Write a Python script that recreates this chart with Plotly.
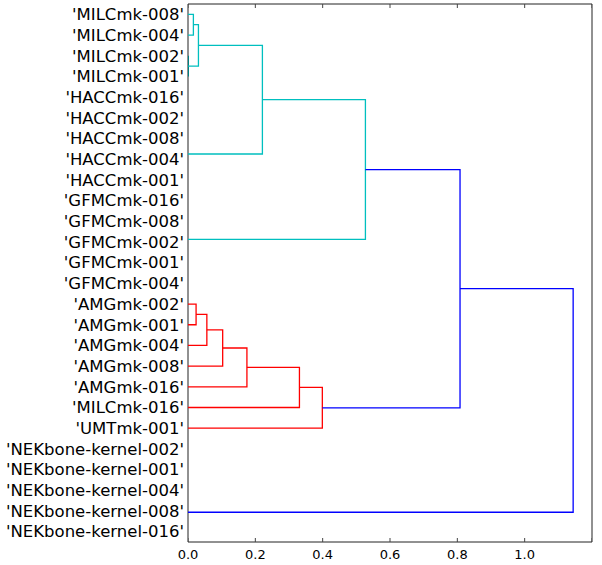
import plotly.graph_objects as go

# Leaf labels, top to bottom
leaf_labels = [
    "'MILCmk-008'", "'MILCmk-004'", "'MILCmk-002'", "'MILCmk-001'",
    "'HACCmk-016'", "'HACCmk-002'", "'HACCmk-008'", "'HACCmk-004'", "'HACCmk-001'",
    "'GFMCmk-016'", "'GFMCmk-008'", "'GFMCmk-002'", "'GFMCmk-001'", "'GFMCmk-004'",
    "'AMGmk-002'", "'AMGmk-001'", "'AMGmk-004'", "'AMGmk-008'", "'AMGmk-016'",
    "'MILCmk-016'", "'UMTmk-001'",
    "'NEKbone-kernel-002'", "'NEKbone-kernel-001'", "'NEKbone-kernel-004'",
    "'NEKbone-kernel-008'", "'NEKbone-kernel-016'",
]

# Linkage: child A, child B, merge distance, colour group
# (node ids: leaves 0..25, merged clusters 26+ in order)
link_a = [0, 2, 26, 4, 6, 29, 31, 28, 9, 11, 35, 34, 33,
          14, 39, 40, 41, 42, 43, 38, 21, 46, 47, 48, 45]
link_b = [1, 3, 27, 5, 7, 30, 8, 32, 10, 12, 13, 36, 37,
          15, 16, 17, 18, 19, 20, 44, 22, 23, 24, 25, 49]
link_dist = [0.016, 0.0, 0.031, 0.0, 0.0, 0.0, 0.0, 0.221, 0.0, 0.0, 0.0, 0.0, 0.527,
             0.024, 0.056, 0.103, 0.175, 0.331, 0.399, 0.808, 0.0, 0.0, 0.0, 0.0, 1.144]
link_group = ["c"] * 13 + ["r"] * 6 + ["b"] * 6

x_ticks = [0.0, 0.2, 0.4, 0.6, 0.8, 1.0, 1.2]

colors = {"c": "#00BFBF", "r": "#FF0000", "b": "#0000FF"}

n = len(leaf_labels)
pos = {i: float(i) for i in range(n)}
height = {i: 0.0 for i in range(n)}

fig = go.Figure()
for k, (a, b, d, g) in enumerate(zip(link_a, link_b, link_dist, link_group)):
    ya, yb = pos[a], pos[b]
    xa, xb = height[a], height[b]
    node = n + k
    pos[node] = (ya + yb) / 2
    height[node] = d
    # zero-height links lie on the axis spine; only the MILC pair shows in the reference
    if d == 0 and k != 1:
        continue
    col = "#008080" if d == 0 else colors[g]
    fig.add_trace(go.Scatter(
        x=[xa, d, d, xb], y=[ya, ya, yb, yb], mode="lines",
        line=dict(color=col, width=1.3 if d > 0 else 2),
        hoverinfo="skip", showlegend=False,
    ))

# plot frame
fig.add_shape(type="rect", xref="paper", yref="paper", x0=0, y0=0, x1=1, y1=1,
              line=dict(color="#222222", width=1), layer="below")
# inward tick marks, bottom and top
tick_len = 4 / 538
for v in x_ticks:
    fig.add_shape(type="line", xref="x", yref="paper", x0=v, x1=v, y0=0, y1=tick_len,
                  line=dict(color="#444444", width=1), layer="below")
    fig.add_shape(type="line", xref="x", yref="paper", x0=v, x1=v, y0=1, y1=1 - tick_len,
                  line=dict(color="#444444", width=1), layer="below")

fig.update_layout(
    width=602, height=565,
    margin=dict(l=188, r=10, t=4, b=23, autoexpand=False),
    paper_bgcolor="white", plot_bgcolor="white",
    font=dict(family="DejaVu Sans", color="black"),
    xaxis=dict(
        range=[0, 1.2], tickvals=x_ticks,
        ticktext=[f"{v:.1f}" for v in x_ticks],
        ticks="", showline=False,
        showgrid=False, zeroline=False, automargin=False,
        tickfont=dict(family="DejaVu Sans", size=13, color="black"),
        ticklabelstandoff=3, fixedrange=True,
    ),
    yaxis=dict(
        range=[n - 0.5, -0.5], tickvals=list(range(n)), ticktext=leaf_labels,
        ticks="", showline=False,
        showgrid=False, zeroline=False, automargin=False,
        tickfont=dict(family="DejaVu Sans", size=16.5, color="black"),
        ticklabelstandoff=3, fixedrange=True,
    ),
)

fig.write_html("out.html", config={"displayModeBar": False},
               post_script="document.body.style.margin='0';")
